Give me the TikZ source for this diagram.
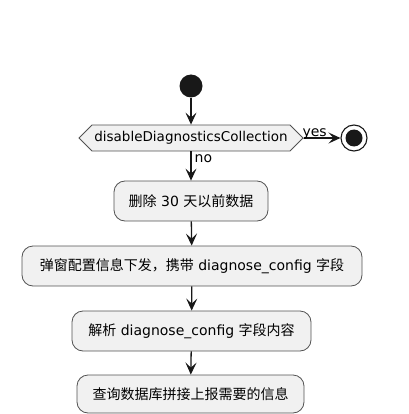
\documentclass[tikz,border=0pt]{standalone}
\usepackage{fontspec}
\setmainfont{DejaVu Sans}
\newfontfamily\cjk{Noto Sans CJK SC}
\usetikzlibrary{arrows.meta,shapes.misc,shapes.geometric,shapes.symbols}
\definecolor{lineclr}{HTML}{181818}
\definecolor{boxfill}{HTML}{F1F1F1}
\tikzset{
  act/.style={draw=lineclr!75, line width=0.8pt, fill=boxfill, rounded corners=11pt,
    minimum height=40pt, inner xsep=0pt, font=\fontsize{14}{16}\selectfont, text=black},
  cond/.style={draw=lineclr!75, line width=0.8pt, fill=boxfill, signal, signal to=west and east,
    signal pointer angle=90, minimum height=26pt, inner xsep=1pt, font=\fontsize{13.5}{16}\selectfont, text=black},
  flow/.style={draw=lineclr, line width=1.3pt, -{Stealth[length=12pt,width=11pt,inset=5pt]}},
  lbl/.style={font=\fontsize{14}{16}\selectfont, text=black, inner sep=0pt},
}
\begin{document}
\begin{tikzpicture}[x=1pt,y=-1pt]
\useasboundingbox (0,0) rectangle (408,414);
\node[circle, fill=lineclr, minimum size=23pt, inner sep=0pt] (start) at (191,86) {};
\node[cond, minimum width=224pt] (dec) at (191,138) {disableDiagnosticsCollection};
\node[circle, draw=lineclr, line width=1.1pt, fill=white, minimum size=26pt, inner sep=0pt] (stop) at (354,138) {};
\node[circle, fill=lineclr, minimum size=17pt, inner sep=0pt] (stopin) at (stop.center) {};
\node[act, minimum width=154pt] (b1) at (191,201) {{\cjk 删除} 30 {\cjk 天以前数据}};
\node[act, minimum width=340pt] (b2) at (192,266) {{\cjk 弹窗配置信息下发，携带} diagnose\_config {\cjk 字段}};
\node[act, minimum width=239pt] (b3) at (191.5,331) {{\cjk 解析} diagnose\_config {\cjk 字段内容}};
\node[act, minimum width=227pt, minimum height=38pt] (b4) at (190.5,394) {{\cjk 查询数据库拼接上报需要的信息}};
\draw[flow] (start) -- (dec.north);
\draw[flow] (dec.east) -- node[lbl, above, pos=0.3, yshift=-2pt] (yes) {yes} (stop);
\draw[flow] (dec.south) -- node[lbl, right, pos=0.25, xshift=3pt] (no) {no} (b1.north);
\draw[flow] (b1) -- (b2);
\draw[flow] (b2) -- (b3);
\draw[flow] (b3) -- (b4);
\end{tikzpicture}
\end{document}
